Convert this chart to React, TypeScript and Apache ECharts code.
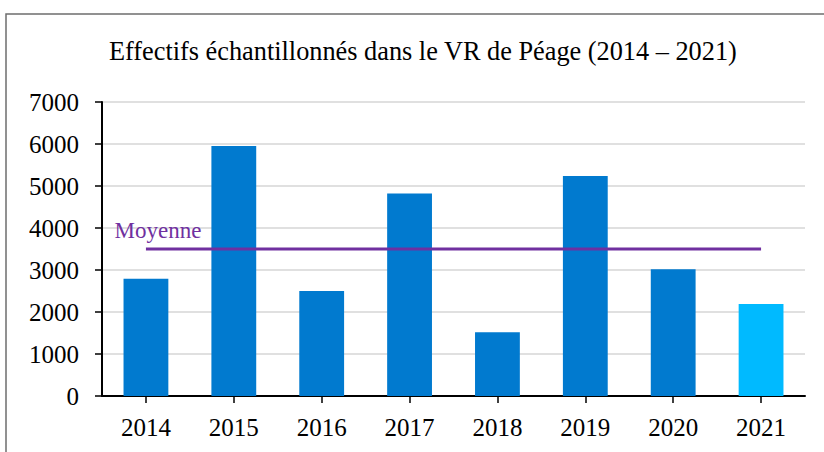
import React, { useEffect, useRef } from "react";
import * as echarts from "echarts";

const years = ["2014", "2015", "2016", "2017", "2018", "2019", "2020", "2021"];
const effectifs = [2790, 5950, 2500, 4820, 1520, 5240, 3020, 2190];
const moyenne = [3500, 3500, 3500, 3500, 3500, 3500, 3500, 3500];
const barColors = ["#017ACF", "#017ACF", "#017ACF", "#017ACF", "#017ACF", "#017ACF", "#017ACF", "#00BAFF"];
const yTicks = { min: 0, max: 7000, interval: 1000 };
const titleText = "Effectifs échantillonnés dans le VR de Péage (2014 – 2021)";
const meanLabel = "Moyenne";

const FONT = "'Liberation Serif', 'Times New Roman', serif";

export default function App() {
  const ref = useRef<HTMLDivElement>(null);
  useEffect(() => {
    if (!ref.current) return;
    const chart = echarts.init(ref.current, null, { renderer: "svg" });
    chart.setOption({
      animation: false,
      backgroundColor: "#ffffff",
      title: {
        text: titleText,
        left: 104,
        top: 33,
        textStyle: { fontFamily: FONT, fontSize: 26.3, fontWeight: "normal", color: "#000" },
      },
      graphic: [
        {
          type: "rect",
          shape: { x: 6, y: 14, width: 840, height: 460 },
          style: { fill: "none", stroke: "#6e6e6e", lineWidth: 1.5 },
          silent: true,
        },
      ],
      grid: { left: 102, right: 19, top: 102, bottom: 56 },
      xAxis: {
        type: "category",
        data: years,
        axisLine: { lineStyle: { color: "#000", width: 2 } },
        axisTick: { show: true, alignWithLabel: true, length: 7, lineStyle: { color: "#000", width: 1.5 } },
        axisLabel: { fontFamily: FONT, fontSize: 25, color: "#000", margin: 19 },
      },
      yAxis: {
        type: "value",
        min: yTicks.min,
        max: yTicks.max,
        interval: yTicks.interval,
        axisLine: { show: true, lineStyle: { color: "#000", width: 2 } },
        axisTick: { show: true, length: 7, lineStyle: { color: "#000", width: 1.5 } },
        axisLabel: { fontFamily: FONT, fontSize: 25, color: "#000", margin: 23, formatter: (v: number) => String(v) },
        splitLine: { lineStyle: { color: "#e0e0e0", width: 2 } },
      },
      series: [
        {
          type: "bar",
          data: effectifs.map((v, i) => ({ value: v, itemStyle: { color: barColors[i] } })),
          barWidth: "51%",
          z: 2,
        },
        {
          type: "line",
          data: moyenne.map((v, i) =>
            i === 0
              ? {
                  value: v,
                  label: {
                    show: true,
                    position: "top",
                    formatter: meanLabel,
                    offset: [12, -2],
                    fontFamily: FONT,
                    fontSize: 23,
                    color: "#7030A0",
                  },
                }
              : v
          ),
          symbol: "circle",
          symbolSize: 0,
          showSymbol: true,
          lineStyle: { color: "#7030A0", width: 3 },
          itemStyle: { color: "#7030A0" },
          z: 3,
        },
      ],
    });
    return () => chart.dispose();
  }, []);
  return <div ref={ref} style={{ width: 824, height: 452, position: "absolute", left: 0, top: 0 }} />;
}
